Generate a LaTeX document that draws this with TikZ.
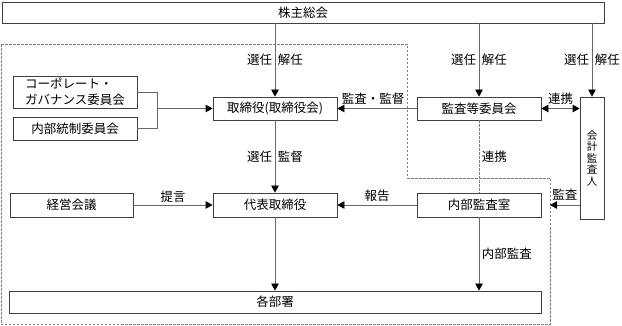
\documentclass[tikz,border=0pt]{standalone}
\usepackage{fontspec}
\setmainfont{Noto Sans CJK JP}
\usetikzlibrary{arrows.meta,positioning,calc}
\definecolor{orgline}{RGB}{64,64,64}
\definecolor{orggray}{RGB}{105,105,105}
\definecolor{orgdash}{RGB}{125,125,125}
\newcommand{\jpsize}{\fontsize{12.5pt}{16pt}\selectfont}
\tikzset{
  obox/.style={draw=orgline, line width=0.8pt, minimum width=124pt, minimum height=23pt,
               inner sep=0pt, align=left, font=\jpsize},
  lbl/.style={inner sep=2.5pt, font=\jpsize},
  link/.style={draw=orggray, line width=0.8pt},
  flow/.style={-{Triangle[length=7pt, width=7.5pt, color=black]}, draw=orggray, line width=0.8pt},
  dflow/.style={{Triangle[length=7pt, width=7.5pt, color=black]}-{Triangle[length=7pt, width=7.5pt, color=black]},
               draw=orggray, line width=0.8pt},
  dline/.style={draw=orgdash, line width=0.8pt, dash pattern=on 2.5pt off 1.5pt},
}
\begin{document}
\begin{tikzpicture}[x=1pt, y=-1pt]
    \useasboundingbox (0,0) rectangle (622,326);
    \draw[dline] (1,44) -- (407,44) -- (407,178) -- (550,178) -- (550,324.5) -- (1,324.5) -- cycle;
    \node[obox, minimum width=602pt, minimum height=21pt] (sk) at (303,12.5) {株主総会};
    \node[obox, minimum height=32pt] (cg) at (75,92) {コーポレート・\\ガバナンス委員会};
    \node[obox] (nb) at (75,128.5) {内部統制委員会};
    \node[obox] (tr) at (275,108.5) {取締役(取締役会)};
    \node[obox] (ka) at (479,108.5) {監査等委員会};
    \node[obox, minimum width=24pt, minimum height=122pt, align=center,
          font=\fontsize{10.5pt}{11.5pt}\selectfont] (ak) at (592,158) {会\\計\\監\\査\\人};
    \node[obox, minimum width=123pt, minimum height=24pt] (kk) at (71.5,205) {経営会議};
    \node[obox, minimum height=24pt] (dt) at (275,205) {代表取締役};
    \node[obox, minimum height=24pt] (nk) at (479,205) {内部監査室};
    \node[obox, minimum width=532pt, minimum height=22pt] (bs) at (275,302) {各部署};
    \coordinate (jn) at (157,108.5);
    \coordinate (ae) at (550,205);
    \draw[flow] (sk.south -| tr.north) -- node[lbl,left]{選任} node[lbl,right]{解任} (tr.north);
    \draw[flow] (sk.south -| ka.north) -- node[lbl,left]{選任} node[lbl,right]{解任} (ka.north);
    \draw[flow] (sk.south -| ak.north) -- node[lbl,left]{選任} node[lbl,right]{解任} (ak.north);
    \draw[link] (cg.east) -| (jn |- nb.east) -- (nb.east);\draw[flow] (jn) -- (tr.west);
    \draw[flow] (ka.west) -- node[lbl,above=1.5pt,pos=0.55]{監査・監督} (tr.east);
    \draw[dflow] (ka.east) -- node[lbl,above=1.5pt]{連携} (ak.west |- ka.east);
    \draw[flow] (tr.south) -- node[lbl,left]{選任} node[lbl,right]{監督} (dt.north);
    \draw[flow] (kk.east) -- node[lbl,above]{提言} (dt.west);
    \draw[flow] (nk.west) -- node[lbl,above]{報告} (dt.east);
    \draw[dline] (ka.south) -- node[lbl,right]{連携} (nk.north);
    \draw[flow] (dt.south) -- (dt.south |- bs.north);
    \draw[flow] (nk.south) -- node[lbl,right]{内部監査} (nk.south |- bs.north);
    \draw[flow] (ak.west |- ae) -- node[lbl,above=1.5pt]{監査} (ae);
  \end{tikzpicture}
\end{document}
